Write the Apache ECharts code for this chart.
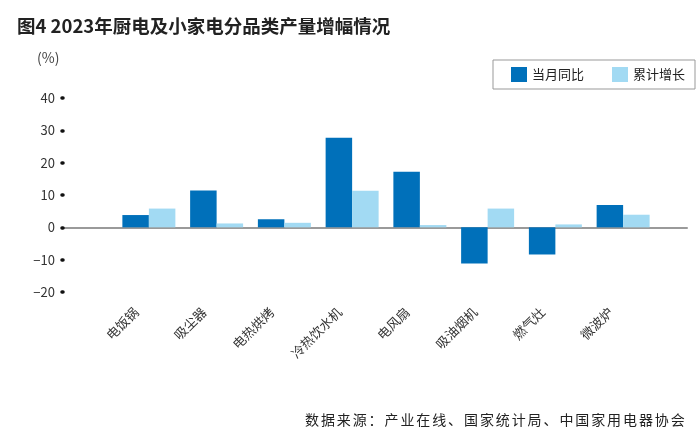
<!DOCTYPE html>
<html>
<head>
<meta charset="utf-8">
<script src="https://cdn.jsdelivr.net/npm/echarts@6/dist/echarts.min.js"></script>
<style>
html,body{margin:0;padding:0;background:#fff;}
#wrap{position:relative;width:700px;height:434px;}
#chart{width:700px;height:434px;}
#src{position:absolute;left:305px;top:409px;font:14px "Noto Sans CJK SC",sans-serif;letter-spacing:1.9px;color:#222;white-space:nowrap;}
</style>
</head>
<body>
<div id="wrap">
<div id="chart"></div>
<div id="src">数据来源：产业在线、国家统计局、中国家用电器协会</div>
</div>
<script>
var categories = ['电饭锅','吸尘器','电热烘烤','冷热饮水机','电风扇','吸油烟机','燃气灶','微波炉'];
var monthly = [3.8, 11.4, 2.5, 27.7, 17.2, -11.2, -8.4, 6.9];
var cumulative = [5.8, 1.2, 1.4, 11.3, 0.7, 5.8, 0.9, 3.9];
var seriesNames = ['当月同比','累计增长'];
var yTicks = {min:-20, max:40, interval:10};

var chart = echarts.init(document.getElementById('chart'));
var font = '"Noto Sans CJK SC", "Noto Sans", sans-serif';
chart.setOption({
  animation:false,
  textStyle:{fontFamily:font},
  title:{
    text:'图4 2023年厨电及小家电分品类产量增幅情况',
    left:12, top:12,
    textStyle:{fontSize:18.5, fontWeight:'bold', color:'#222', fontFamily:font}
  },
  graphic:[{type:'text', left:37, top:51, style:{text:'(%)', fontSize:14, fill:'#444', fontFamily:font}}],
  legend:{
    data:seriesNames,
    left:493, top:60,
    orient:'horizontal',
    borderWidth:1, borderColor:'#999',
    padding:[7,10,7,18],
    itemWidth:16, itemHeight:15, itemGap:28,
    icon:'rect',
    textStyle:{fontSize:13, color:'#222', fontFamily:font}
  },
  grid:[
    {left:63, right:13, top:98, height:194},
    {left:115, right:43, top:98, height:194}
  ],
  xAxis:[
    {gridIndex:0, type:'value', min:0, max:1, show:true,
     axisLabel:{show:false}, axisTick:{show:false}, splitLine:{show:false},
     axisLine:{show:true, onZero:true, lineStyle:{color:'#9a9a9a', width:2}}},
    {gridIndex:1, type:'category', data:categories,
     axisLine:{show:false}, axisTick:{show:false},
     axisLabel:{rotate:45, margin:5, padding:[0,18,0,0], fontSize:13, color:'#333', interval:0, fontFamily:font}}
  ],
  yAxis:[
    {gridIndex:0, type:'value', min:yTicks.min, max:yTicks.max, interval:yTicks.interval,
     axisLine:{show:false}, splitLine:{show:false},
     axisTick:{show:true, length:1, lineStyle:{color:'#111', width:3.5, cap:'round'}},
     axisLabel:{margin:8, fontSize:13, color:'#333', fontFamily:font,
       formatter:function(v){return String(v).replace('-', '\u2212');}}},
    {gridIndex:1, type:'value', min:yTicks.min, max:yTicks.max, interval:yTicks.interval, show:false}
  ],
  series:[
    {name:seriesNames[0], type:'bar', xAxisIndex:1, yAxisIndex:1, data:monthly,
     barWidth:26.5, barGap:'0%', itemStyle:{color:'#0070BA'}},
    {name:seriesNames[1], type:'bar', xAxisIndex:1, yAxisIndex:1, data:cumulative,
     barWidth:26.5, barGap:'0%', itemStyle:{color:'#A2DAF3'}}
  ]
});
</script>
</body>
</html>
